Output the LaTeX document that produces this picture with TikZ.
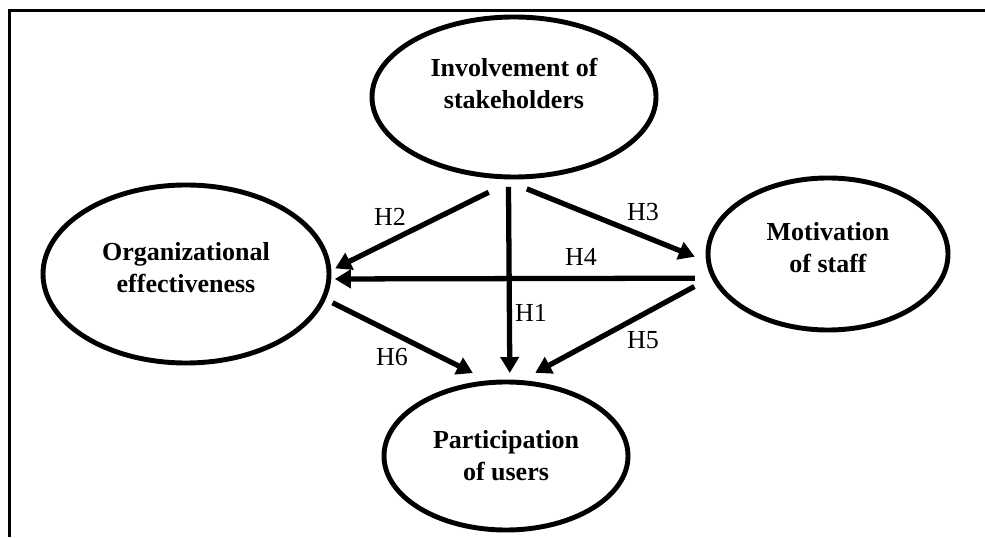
\documentclass[tikz,border=0pt]{standalone}
\usepackage{fontspec}
\setmainfont{Liberation Serif}
\usetikzlibrary{shapes.geometric,arrows.meta}
\tikzset{
  construct/.style={ellipse, draw=black, line width=2.8pt, inner sep=0pt, outer sep=0pt,
    align=center, font=\fontsize{14.8}{18.2}\selectfont\bfseries},
  hyp/.style={line width=3pt, -{Triangle[length=0.32cm,width=0.36cm]}},
  hyplabel/.style={inner sep=0pt, font=\fontsize{14.8}{18.2}\selectfont},
}
\begin{document}
\begin{tikzpicture}
\useasboundingbox (0,0) rectangle (19.7,10.74);
\draw[line width=2pt] (0.19,0)--(0.19,10.53)--(19.7,10.53);
\node[construct, minimum width=5.68cm, minimum height=3.2cm, text depth=0.55cm] (inv) at (10.28,8.80) {Involvement of\\stakeholders};
\node[construct, minimum width=5.72cm, minimum height=3.56cm, text depth=0.28cm] (org) at (3.72,5.26) {Organizational\\effectiveness};
\node[construct, minimum width=4.8cm, minimum height=3.04cm, text depth=0.28cm] (mot) at (16.56,5.66) {Motivation\\of staff};
\node[construct, minimum width=4.88cm, minimum height=2.96cm] (par) at (10.12,1.62) {Participation\\of users};
\draw[hyp, shorten <=0.2cm, shorten >=0.18cm] (inv.266.4)--(par.87.7);
\draw[hyp, shorten <=0.69cm, shorten >=0.14cm] (inv.274.3)--(org.1.6);
\draw[hyp, shorten <=0.67cm, shorten >=0.3cm] (inv.257.4)--(mot.184.7);
\draw[hyp, shorten <=0.39cm, shorten >=0.12cm] (mot.192.4)--(org.358);
\draw[hyp, shorten <=0.43cm, shorten >=0.4cm] (mot.191.9)--(par.81.2);
\draw[hyp, shorten <=0.2cm, shorten >=0.42cm] (org.350.4)--(par.101);
\node[hyplabel] (h1) at (10.62,4.48) {H1};
\node[hyplabel] (h2) at (7.80,6.40) {H2};
\node[hyplabel] (h3) at (12.86,6.50) {H3};
\node[hyplabel] (h4) at (11.62,5.60) {H4};
\node[hyplabel] (h5) at (12.86,3.94) {H5};
\node[hyplabel] (h6) at (7.84,3.60) {H6};
\end{tikzpicture}
\end{document}
